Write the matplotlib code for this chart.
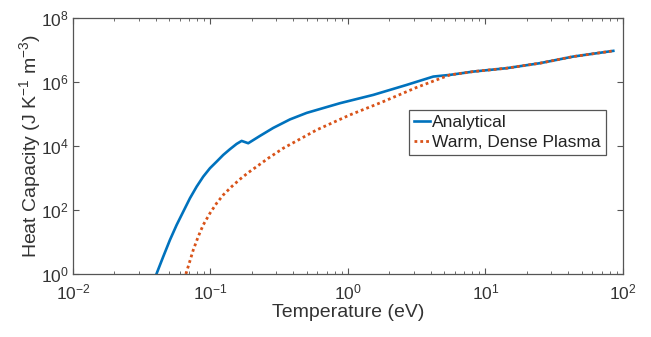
import matplotlib
matplotlib.use('Agg')
import matplotlib.pyplot as plt
import numpy as np

plt.rcParams['font.family'] = ['Liberation Sans', 'DejaVu Sans']
plt.rcParams['mathtext.fontset'] = 'custom'
plt.rcParams['mathtext.rm'] = 'Liberation Sans'
plt.rcParams['mathtext.it'] = 'Liberation Sans'

# Analytical heat capacity
t_analytical = [0.0405, 0.04536, 0.05075, 0.05678, 0.06343, 0.07095, 0.07937,
                0.08863, 0.09917, 0.1109, 0.1239, 0.1386, 0.1550, 0.1686,
                0.1883, 0.2291, 0.2862, 0.3788, 0.5007, 0.8746, 1.528, 2.673,
                4.173, 5.52, 8.15, 14.26, 24.9, 43.5, 85.0]
c_analytical = [1.0, 3.47, 11.55, 34.0, 88.5, 232, 535,
                1099, 2010, 3230, 5230, 7890, 11550, 14330,
                12140, 20540, 36500, 67300, 1.075e5, 2.159e5, 3.925e5, 8.054e5,
                1.466e6, 1.655e6, 2.1e6, 2.68e6, 3.84e6, 6.18e6, 9.31e6]

# Warm, dense plasma model
t_wdp = [0.0663, 0.0701, 0.0750, 0.0815, 0.0886, 0.0992, 0.1109, 0.1239,
         0.1426, 0.1639, 0.1883, 0.2168, 0.2633, 0.3384, 0.592, 1.034,
         1.806, 3.16, 4.93, 5.52, 8.15, 14.26, 24.9, 43.5, 85.0]
c_wdp = [1.0, 2.16, 5.62, 14.7, 34.0, 78.9, 162, 294,
         535, 910, 1465, 2255, 4130, 8470, 31600, 93100,
         2.42e5, 6.73e5, 1.383e6, 1.655e6, 2.1e6, 2.68e6, 3.84e6, 6.18e6, 9.31e6]

blue = '#0072BD'
orange = '#D95319'
edge = '#555555'
text_col = '#333333'

fig = plt.figure(figsize=(6.51, 3.37), dpi=100)
ax = fig.add_axes([0.112, 0.187, 0.845, 0.760])

ax.plot(t_analytical, c_analytical, color=blue, lw=1.9, label='Analytical',
        solid_joinstyle='round')
ax.plot(t_wdp, c_wdp, color=orange, lw=2.0, dashes=(1.0, 1.1),
        label='Warm, Dense Plasma')

ax.set_xscale('log')
ax.set_yscale('log')
ax.set_xlim(1e-2, 1e2)
ax.set_ylim(1e0, 1e8)
ax.set_xticks([1e-2, 1e-1, 1e0, 1e1, 1e2])
ax.set_yticks([1e0, 1e2, 1e4, 1e6, 1e8])
ax.yaxis.set_minor_locator(matplotlib.ticker.NullLocator())

ax.tick_params(which='both', direction='in', top=True, right=True,
               colors=edge, labelcolor=text_col, labelsize=12.5)
ax.tick_params(which='major', length=4, width=0.8)
ax.tick_params(which='minor', length=2.5, width=0.6)
ax.tick_params(axis='x', pad=6)
ax.tick_params(axis='y', pad=3)
for s in ax.spines.values():
    s.set_color(edge)
    s.set_linewidth(0.9)

ax.set_xlabel('Temperature (eV)', fontsize=14, color=text_col, labelpad=1)
ax.set_ylabel('Heat Capacity (J K$^{-1}$ m$^{-3}$)', fontsize=14,
              color=text_col, labelpad=-1.5)

leg = ax.legend(loc='upper right', bbox_to_anchor=(0.969, 0.640),
                fontsize=12.5, handlelength=0.9, handletextpad=0.15,
                borderpad=0.3, labelspacing=0.25, borderaxespad=0,
                fancybox=False, framealpha=1)
leg.get_frame().set_edgecolor(edge)
leg.get_frame().set_linewidth(0.9)
for txt in leg.get_texts():
    txt.set_color('#222222')

fig.savefig('out.png', dpi=100)
